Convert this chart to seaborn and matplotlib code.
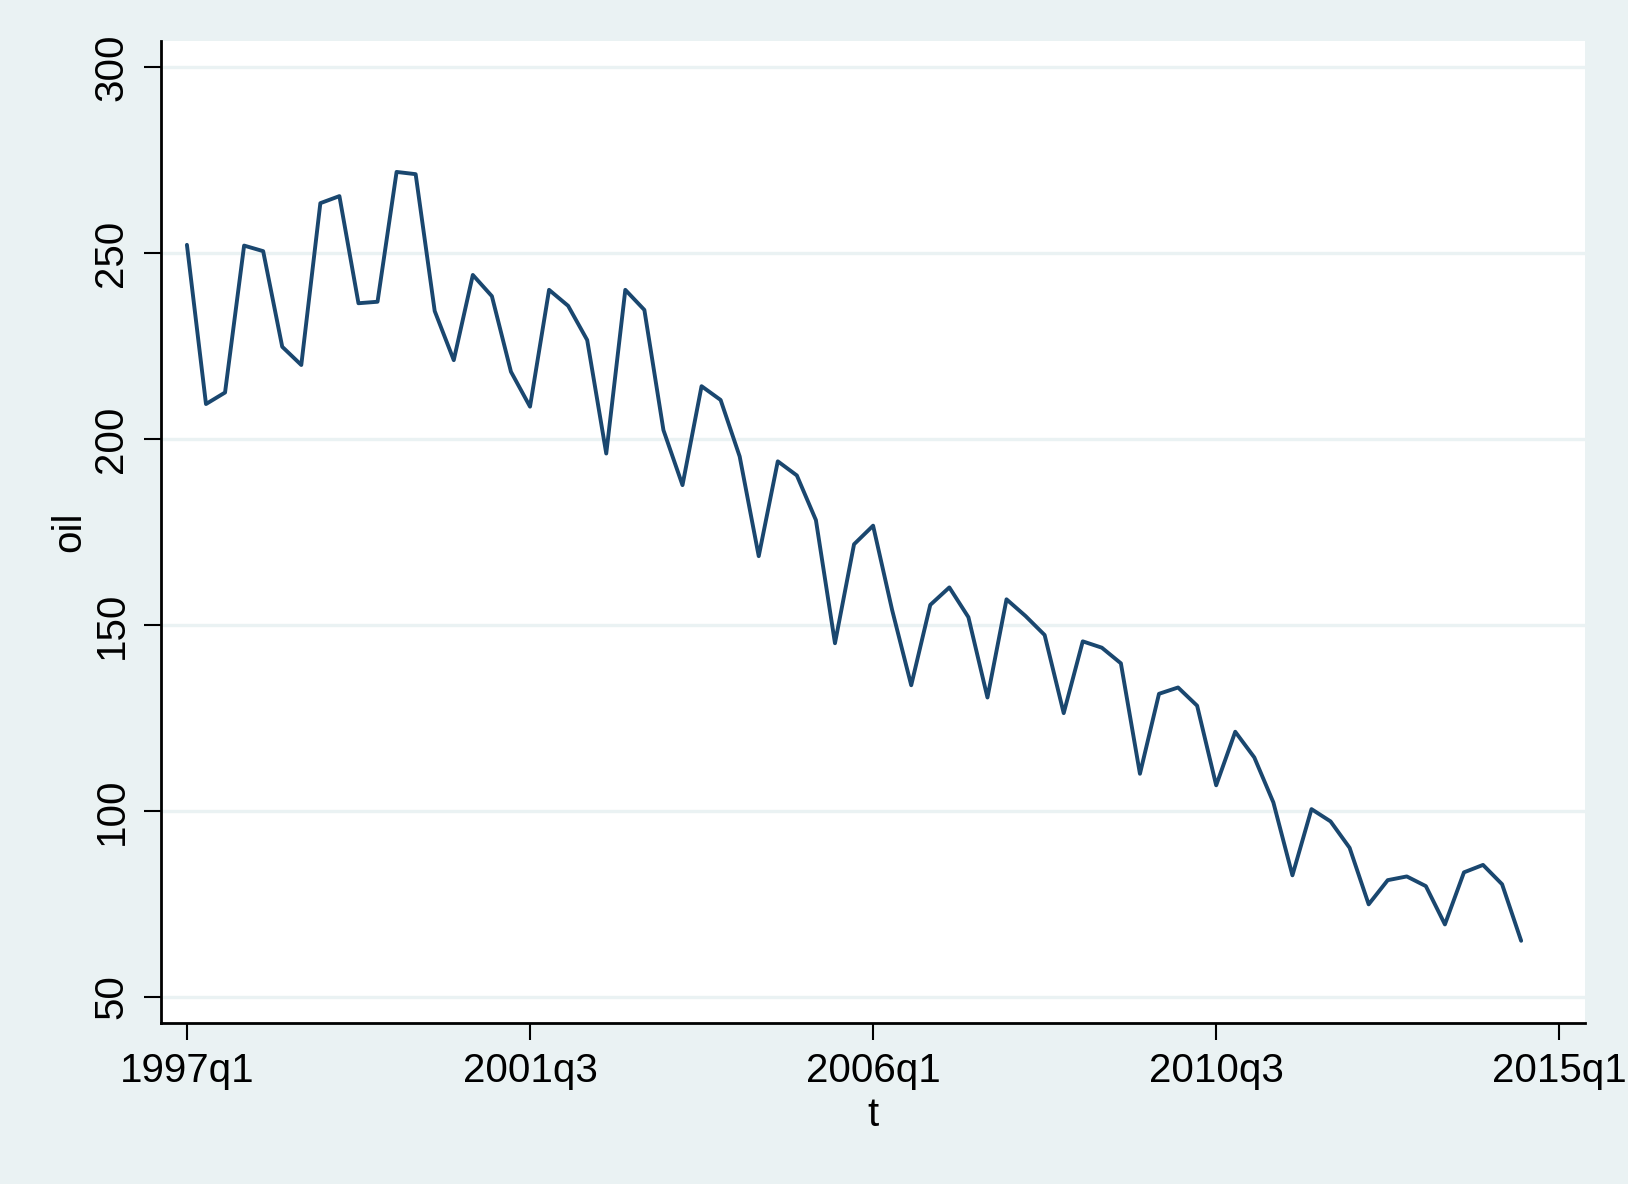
import matplotlib
matplotlib.use("Agg")
import matplotlib.pyplot as plt
import seaborn as sns
import pandas as pd

# quarterly series 1997q1 .. 2014q3
oil = [252.2, 209.4, 212.5, 252.0, 250.5, 224.8, 219.9, 263.4, 265.3, 236.5,
       236.9, 271.8, 271.2, 234.4, 221.2, 244.1, 238.4, 218.1, 208.7, 240.1,
       235.8, 226.6, 196.1, 240.1, 234.7, 202.4, 187.6, 214.2, 210.5, 195.3,
       168.5, 194.0, 190.2, 178.2, 145.1, 171.7, 176.7, 154.0, 133.8, 155.4,
       160.1, 152.1, 130.5, 156.9, 152.4, 147.3, 126.3, 145.6, 143.9, 139.7,
       110.0, 131.5, 133.2, 128.3, 106.9, 121.3, 114.4, 102.3, 82.7, 100.5,
       97.2, 90.1, 74.9, 81.4, 82.4, 79.8, 69.5, 83.5, 85.5, 80.3, 65.1]
quarter_index = list(range(len(oil)))
xtick_pos = [0, 18, 36, 54, 72]
xtick_labels = ["1997q1", "2001q3", "2006q1", "2010q3", "2015q1"]
ytick_vals = [50, 100, 150, 200, 250, 300]

df = pd.DataFrame({"t": quarter_index, "oil": oil})

sns.set_theme(style="white")
plt.rcParams["font.family"] = ["Liberation Sans", "DejaVu Sans"]

BG = "#EAF2F3"
LINE = "#1A476F"

fig = plt.figure(figsize=(16.28, 11.84), dpi=100, facecolor=BG)
ax = fig.add_axes([161/1628, 1 - 1023/1184, (1585-161)/1628, (1023-41)/1184])
ax.set_facecolor("white")

sns.lineplot(data=df, x="t", y="oil", ax=ax, color=LINE, linewidth=2.8)

ax.set_xlim(-1.36, 73.35)
ax.set_ylim(43.0, 307.0)
ax.set_xticks(xtick_pos)
ax.set_xticklabels(xtick_labels)
ax.set_yticks(ytick_vals)
ax.set_yticklabels([str(v) for v in ytick_vals], rotation=90, va="center")

ax.grid(axis="y", color=BG, linewidth=2.4)
ax.grid(axis="x", visible=False)
ax.set_axisbelow(True)

for s in ["top", "right"]:
    ax.spines[s].set_visible(False)
for s in ["left", "bottom"]:
    ax.spines[s].set_color("black")
    ax.spines[s].set_linewidth(2.0)

ax.tick_params(axis="both", which="major", direction="out", length=12, width=1.5,
               color="black", labelsize=29, labelcolor="black", pad=9,
               left=True, bottom=True)
ax.tick_params(axis="y", pad=10)

ax.set_xlabel("t", fontsize=29, color="black", labelpad=4)
ax.set_ylabel("oil", fontsize=29, color="black", labelpad=3)

fig.savefig("out.png", dpi=100, facecolor=BG)
